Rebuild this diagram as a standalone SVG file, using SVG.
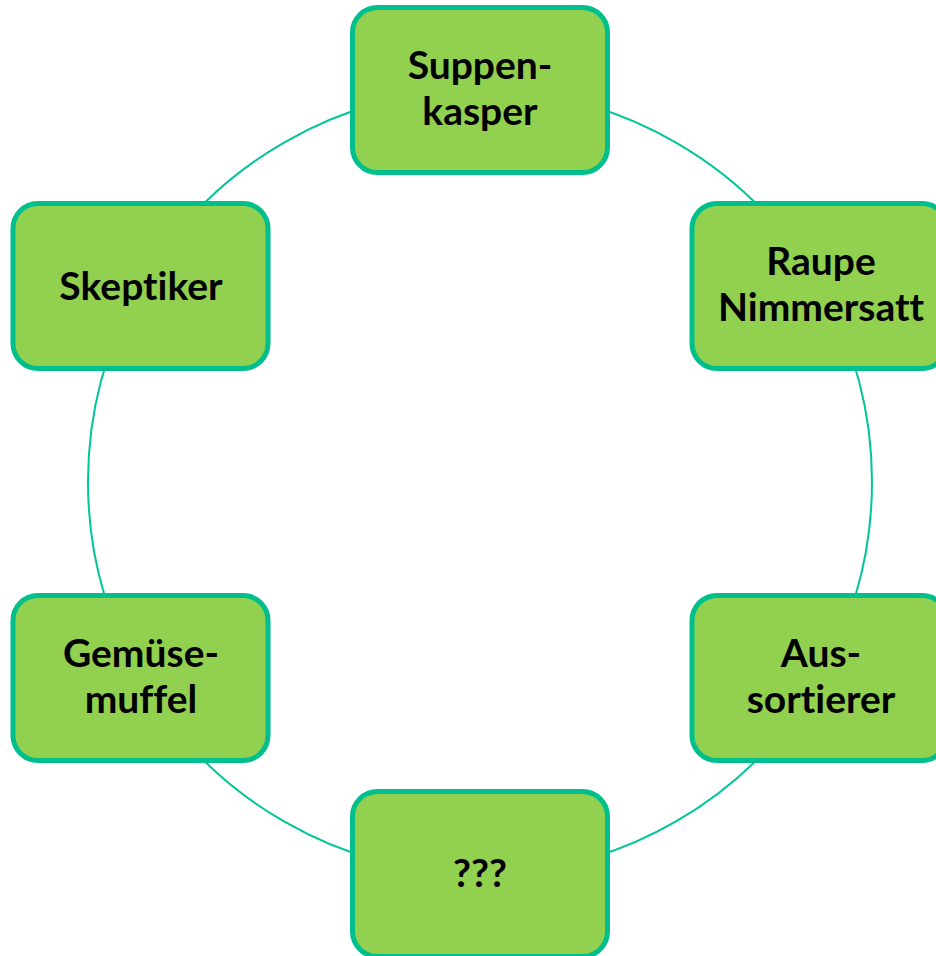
<svg xmlns="http://www.w3.org/2000/svg" width="936" height="956" viewBox="0 0 936 956">
<style>
.conn{fill:none;stroke:#00C49A;stroke-width:2}
.box{fill:#92D050;stroke:#00BF8C;stroke-width:5}
.lbl{font-family:Lato,"Liberation Sans",sans-serif;font-weight:700;font-size:39px;fill:#000;text-anchor:middle;font-variant-ligatures:none;font-feature-settings:"liga" 0,"clig" 0}
</style>
<rect width="936" height="956" fill="#fff"/>
<g id="connectors">
<path class="conn" d="M480 90 A392 392 0 0 1 819.48 286"/>
<path class="conn" d="M819.48 286 A392 392 0 0 1 819.48 678"/>
<path class="conn" d="M819.48 678 A392 392 0 0 1 480 874"/>
<path class="conn" d="M480 874 A392 392 0 0 1 140.52 678"/>
<path class="conn" d="M140.52 678 A392 392 0 0 1 140.52 286"/>
<path class="conn" d="M140.52 286 A392 392 0 0 1 480 90"/>
</g>
<g id="node-suppenkasper">
<rect class="box" x="352.5" y="7.5" width="255" height="165" rx="25"/>
<text class="lbl" x="480" y="79">Suppen-</text>
<text class="lbl" x="480" y="125">kasper</text>
</g>
<g id="node-raupe">
<rect class="box" x="692" y="203.5" width="255" height="165" rx="25"/>
<text class="lbl" x="821" y="275">Raupe</text>
<text class="lbl" x="821" y="321">Nimmersatt</text>
</g>
<g id="node-aussortierer">
<rect class="box" x="692" y="595.5" width="255" height="165" rx="25"/>
<text class="lbl" x="821" y="667">Aus-</text>
<text class="lbl" x="821" y="713">sortierer</text>
</g>
<g id="node-unknown">
<rect class="box" x="352.5" y="791.5" width="255" height="165" rx="25"/>
<text class="lbl" x="480" y="887">???</text>
</g>
<g id="node-gemuesemuffel">
<rect class="box" x="13" y="595.5" width="255" height="165" rx="25"/>
<text class="lbl" x="141" y="667">Gemüse-</text>
<text class="lbl" x="141" y="713">muffel</text>
</g>
<g id="node-skeptiker">
<rect class="box" x="13" y="203.5" width="255" height="165" rx="25"/>
<text class="lbl" x="141" y="300">Skeptiker</text>
</g>
</svg>
